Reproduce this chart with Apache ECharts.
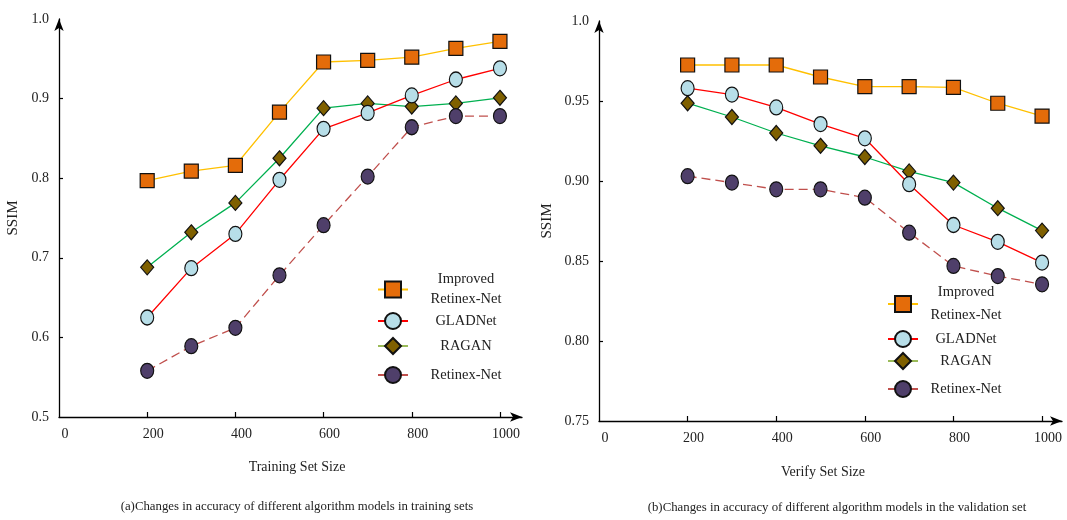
<!DOCTYPE html>
<html>
<head>
<meta charset="utf-8">
<script src="https://cdn.jsdelivr.net/npm/echarts@6/dist/echarts.min.js"></script>
<style>html,body{margin:0;padding:0;background:#fff}#c{width:1067px;height:520px}</style>
</head>
<body>
<div id="c"></div>
<script>
// ---- data ----
const xVals = [200, 300, 400, 500, 600, 700, 800, 900, 1000];
const seriesNames = ['Improved Retinex-Net', 'GLADNet', 'RAGAN', 'Retinex-Net'];

// (a) training set
const trainImproved = [0.797, 0.809, 0.816, 0.883, 0.946, 0.948, 0.952, 0.963, 0.972];
const trainGLADNet  = [0.625, 0.687, 0.730, 0.798, 0.862, 0.882, 0.904, 0.924, 0.938];
const trainRAGAN    = [0.688, 0.732, 0.769, 0.825, 0.888, 0.894, 0.890, 0.894, 0.901];
const trainRetinex  = [0.558, 0.589, 0.612, 0.678, 0.741, 0.802, 0.864, 0.878, 0.878];

// (b) validation set
const valImproved = [0.9725, 0.9725, 0.9725, 0.965, 0.959, 0.959, 0.9585, 0.9486, 0.9406];
const valGLADNet  = [0.958, 0.954, 0.946, 0.9356, 0.9267, 0.898, 0.8725, 0.862, 0.849];
const valRAGAN    = [0.9486, 0.940, 0.930, 0.922, 0.915, 0.906, 0.899, 0.883, 0.869];
const valRetinex  = [0.903, 0.899, 0.8948, 0.8948, 0.8896, 0.8677, 0.8469, 0.8406, 0.8354];

const xTickLabels = [0, 200, 400, 600, 800, 1000];
const yTicksA = [0.5, 0.6, 0.7, 0.8, 0.9, 1.0];
const yTicksB = [0.75, 0.80, 0.85, 0.90, 0.95, 1.0];

const titles = {
  xA: 'Training Set Size',
  xB: 'Verify Set Size',
  capA: '(a)Changes in accuracy of different algorithm models in training sets',
  capB: '(b)Changes in accuracy of different algorithm models in the validation set',
  y: 'SSIM'
};

// ---- styles ----
const FONT = 'Liberation Serif';
const TXT = '#222';
const styles = {
  'Improved Retinex-Net': {symbol: 'rect', size: [14, 14], fill: '#E46C0A', line: '#FFC000', type: 'solid'},
  'GLADNet': {symbol: 'circle', size: [13, 15], fill: '#B7DEE8', line: '#FF0000', type: 'solid'},
  'RAGAN': {symbol: 'diamond', size: [13, 15], fill: '#7F6000', line: '#00B050', type: 'solid'},
  'Retinex-Net': {symbol: 'circle', size: [13, 15], fill: '#4F3F6A', line: '#C0504D', type: [9, 5]}
};

function mkSeries(name, vals, idx) {
  const s = styles[name];
  return {
    type: 'line', name: name, xAxisIndex: idx, yAxisIndex: idx,
    data: xVals.map((x, i) => [x, vals[i]]),
    symbol: s.symbol, symbolSize: s.size, showAllSymbol: true,
    lineStyle: {color: s.line, width: 1.3, type: s.type},
    itemStyle: {color: s.fill, borderColor: '#111', borderWidth: 1.2},
    emphasis: {disabled: true}, animation: false
  };
}

function xAxis(idx, max) {
  return {
    type: 'value', gridIndex: idx, min: 0, max: max,
    axisLine: {show: true, lineStyle: {color: '#000', width: 1.3}, symbol: ['none', 'arrow'], symbolSize: [7, 12]},
    axisTick: {show: true, inside: true, length: 5, lineStyle: {color: '#000', width: 1.2}, customValues: [200, 400, 600, 800, 1000]},
    axisLabel: {customValues: xTickLabels, formatter: v => String(Math.round(v)), color: TXT, fontFamily: FONT, fontSize: 14, margin: 10, padding: [0, 0, 0, 12]},
    splitLine: {show: false}
  };
}

function yAxis(idx, ticks, fmt, gap) {
  return {
    type: 'value', gridIndex: idx, min: ticks[0], max: ticks[ticks.length - 1],
    axisLine: {show: true, lineStyle: {color: '#000', width: 1.3}, symbol: ['none', 'arrow'], symbolSize: [7, 12]},
    axisTick: {show: true, inside: true, length: 4, lineStyle: {color: '#000', width: 1.2}, customValues: ticks.slice(1, ticks.length - 1)},
    axisLabel: {customValues: ticks, formatter: fmt, color: TXT, fontFamily: FONT, fontSize: 14, margin: 10},
    splitLine: {show: false},
    name: titles.y, nameLocation: 'middle', nameRotate: 90, nameGap: gap,
    nameTextStyle: {color: TXT, fontFamily: FONT, fontSize: 15}
  };
}

function legendItem(name, left, top, w, lh) {
  const item = {name: name};
  if (name === 'RAGAN') item.lineStyle = {color: '#9BBB59'};
  if (name === 'Retinex-Net') item.lineStyle = {type: 'solid'};
  return {
    data: [item], left: left, top: top, orient: 'vertical', padding: 0,
    itemWidth: 30, itemHeight: 20, selectedMode: false,
    formatter: function (n) {
      if (n === 'Improved Retinex-Net') return '{a|Improved}\n{a|Retinex-Net}';
      return '{a|' + n + '}';
    },
    textStyle: {rich: {a: {width: w, align: 'center', lineHeight: lh, fontSize: 14.5, fontFamily: FONT, color: TXT}}}
  };
}

function titleItem(text, cx, top, size) {
  return {text: text, left: cx, top: top, textAlign: 'center', padding: 0,
    textStyle: {fontSize: size, fontWeight: 'normal', fontFamily: FONT, color: TXT}};
}

const chart = echarts.init(document.getElementById('c'), null, {renderer: 'canvas'});
chart.setOption({
  animation: false,
  backgroundColor: '#fff',
  title: [
    titleItem(titles.xA, 297, 460, 14),
    titleItem(titles.xB, 823, 465, 14),
    titleItem(titles.capA, 297, 500, 12.8),
    titleItem(titles.capB, 837, 501, 12.8)
  ],
  grid: [
    {left: 59, top: 19, width: 463, height: 398},
    {left: 599, top: 21, width: 463, height: 400}
  ],
  xAxis: [xAxis(0, 1050), xAxis(1, 1045)],
  yAxis: [
    yAxis(0, yTicksA, v => v.toFixed(1), 38),
    yAxis(1, yTicksB, v => (Math.abs(v - 1) < 1e-9 ? '1.0' : v.toFixed(2)), 44)
  ],
  legend: [
    legendItem('Improved Retinex-Net', 377, 272, 106, 20),
    legendItem('GLADNet', 377, 312, 106, 20),
    legendItem('RAGAN', 377, 337, 106, 20),
    legendItem('Retinex-Net', 377, 366, 106, 20),
    legendItem('Improved Retinex-Net', 887, 285, 86, 23),
    legendItem('GLADNet', 887, 330, 86, 20),
    legendItem('RAGAN', 887, 352, 86, 20),
    legendItem('Retinex-Net', 887, 380, 86, 20)
  ],
  series: [
    mkSeries('Improved Retinex-Net', trainImproved, 0),
    mkSeries('RAGAN', trainRAGAN, 0),
    mkSeries('GLADNet', trainGLADNet, 0),
    mkSeries('Retinex-Net', trainRetinex, 0),
    mkSeries('Improved Retinex-Net', valImproved, 1),
    mkSeries('RAGAN', valRAGAN, 1),
    mkSeries('GLADNet', valGLADNet, 1),
    mkSeries('Retinex-Net', valRetinex, 1)
  ]
});
</script>
</body>
</html>
